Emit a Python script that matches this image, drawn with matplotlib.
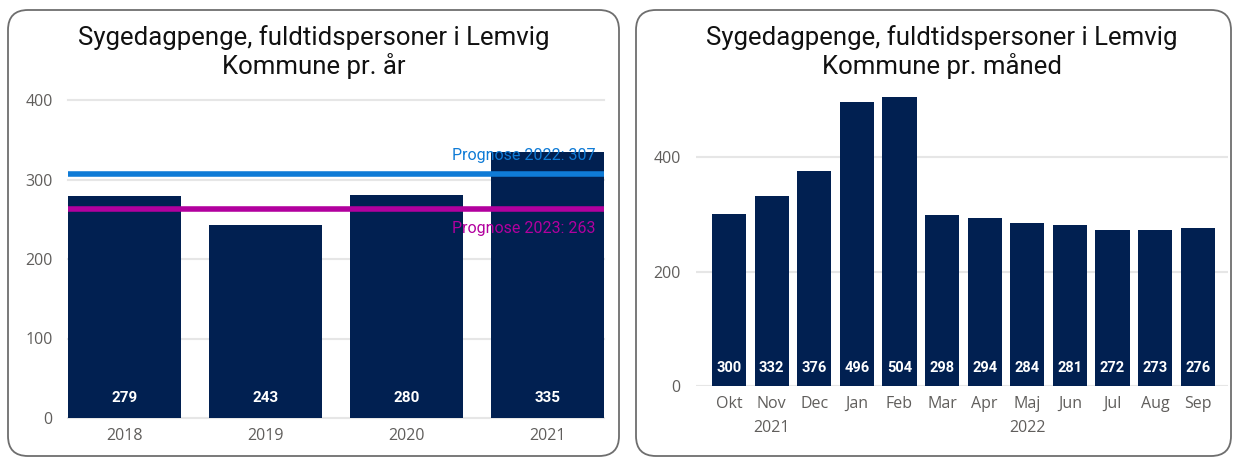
import matplotlib
matplotlib.use('Agg')
import matplotlib.pyplot as plt
from matplotlib.patches import FancyBboxPatch

# ---------------- data ----------------
years = ['2018', '2019', '2020', '2021']
year_values = [279, 243, 280, 335]
prognose_2022 = 307
prognose_2023 = 263

months = ['Okt', 'Nov', 'Dec', 'Jan', 'Feb', 'Mar', 'Apr', 'Maj', 'Jun', 'Jul', 'Aug', 'Sep']
month_values = [300, 332, 376, 496, 504, 298, 294, 284, 281, 272, 273, 276]
month_years = [('2021', 0, 2), ('2022', 3, 11)]

title_left = 'Sygedagpenge, fuldtidspersoner i Lemvig\nKommune pr. år'
title_right = 'Sygedagpenge, fuldtidspersoner i Lemvig\nKommune pr. måned'

# ---------------- style ----------------
BAR = '#012051'
GRID = '#E6E6E6'
TICK = '#605E5C'
BLUE = '#0F7BD6'
MAGENTA = '#B2009E'
TFONT = ['Roboto', 'DejaVu Sans']
LFONT = ['Open Sans', 'DejaVu Sans']

W, H = 1234, 459
fig = plt.figure(figsize=(W / 100, H / 100), dpi=100)

bg = fig.add_axes([0, 0, 1, 1], zorder=-5)
bg.set_xlim(0, W)
bg.set_ylim(H, 0)
bg.axis('off')
for (x0, y0, x1, y1) in [(8, 10, 619, 456), (636, 10, 1231, 456)]:
    bg.add_patch(FancyBboxPatch((x0, y0), x1 - x0, y1 - y0,
                                boxstyle='round,pad=0,rounding_size=20',
                                fc='white', ec='#6E6E6E', lw=1.3))
bg.text(314, 52, title_left, ha='center', va='center', fontsize=18.5,
        family=TFONT, linespacing=1.13, color='#111111')
bg.text(942, 52, title_right, ha='center', va='center', fontsize=18.5,
        family=TFONT, linespacing=1.13, color='#111111')


def ax_at(x0, y0, x1, y1):
    return fig.add_axes([x0 / W, 1 - y1 / H, (x1 - x0) / W, (y1 - y0) / H])


def style(ax):
    for s in ax.spines.values():
        s.set_visible(False)
    ax.tick_params(length=0, colors=TICK, labelsize=11.5)
    for lab in ax.get_xticklabels() + ax.get_yticklabels():
        lab.set_family(LFONT)
    ax.set_facecolor('none')


# ---------------- left chart ----------------
axl = ax_at(68, 100, 604, 418)
xl = list(range(len(years)))
axl.set_xlim(-0.4, len(years) - 0.6)
axl.set_ylim(0, 400)
for v in [0, 100, 200, 300, 400]:
    axl.axhline(v, color=GRID, lw=1.5, zorder=0, clip_on=False)
axl.bar(xl, year_values, width=0.8, color=BAR, zorder=2)
axl.set_xticks(xl)
axl.set_xticklabels(years)
axl.set_yticks([0, 100, 200, 300, 400])
axl.tick_params(axis='y', pad=11)
axl.tick_params(axis='x', pad=7)
style(axl)
for i, v in zip(xl, year_values):
    axl.annotate(str(v), xy=(i, 0), xytext=(0, 20), textcoords='offset pixels',
                 ha='center', va='center', color='white', fontsize=11,
                 fontweight='bold', family=TFONT, zorder=5)
axl.axhline(prognose_2022, color=BLUE, lw=4, zorder=3)
axl.axhline(prognose_2023, color=MAGENTA, lw=4, zorder=3)
axl.annotate(f'Prognose 2022: {prognose_2022}', xy=(3.4, prognose_2022),
             xytext=(-8, 18), textcoords='offset pixels', ha='right', va='center',
             color=BLUE, fontsize=11.5, family=TFONT, zorder=4)
axl.annotate(f'Prognose 2023: {prognose_2023}', xy=(3.4, prognose_2023),
             xytext=(-8, -20), textcoords='offset pixels', ha='right', va='center',
             color=MAGENTA, fontsize=11.5, family=TFONT, zorder=4)

# ---------------- right chart ----------------
ymax_r = 520
axr = ax_at(696, 386 - ymax_r * 0.5725, 1228, 386)
xr = list(range(len(months)))
axr.set_xlim(-0.775, 11.71)
axr.set_ylim(0, ymax_r)
for v in [0, 200, 400]:
    axr.axhline(v, color=GRID, lw=1.5, zorder=0)
axr.bar(xr, month_values, width=0.8, color=BAR, zorder=2)
axr.set_xticks(xr)
axr.set_xticklabels(months)
axr.set_yticks([0, 200, 400])
axr.tick_params(axis='y', pad=11)
axr.tick_params(axis='x', pad=7)
style(axr)
for i, v in zip(xr, month_values):
    axr.annotate(str(v), xy=(i, 0), xytext=(0, 18), textcoords='offset pixels',
                 ha='center', va='center', color='white', fontsize=10.5,
                 fontweight='bold', family=TFONT, zorder=5)
for lab, a, b in month_years:
    axr.annotate(lab, xy=((a + b) / 2, 0), xycoords=('data', 'axes fraction'),
                 xytext=(0, -42), textcoords='offset pixels', ha='center', va='center',
                 color=TICK, fontsize=11.5, family=LFONT)

fig.savefig('out.png', dpi=100)
